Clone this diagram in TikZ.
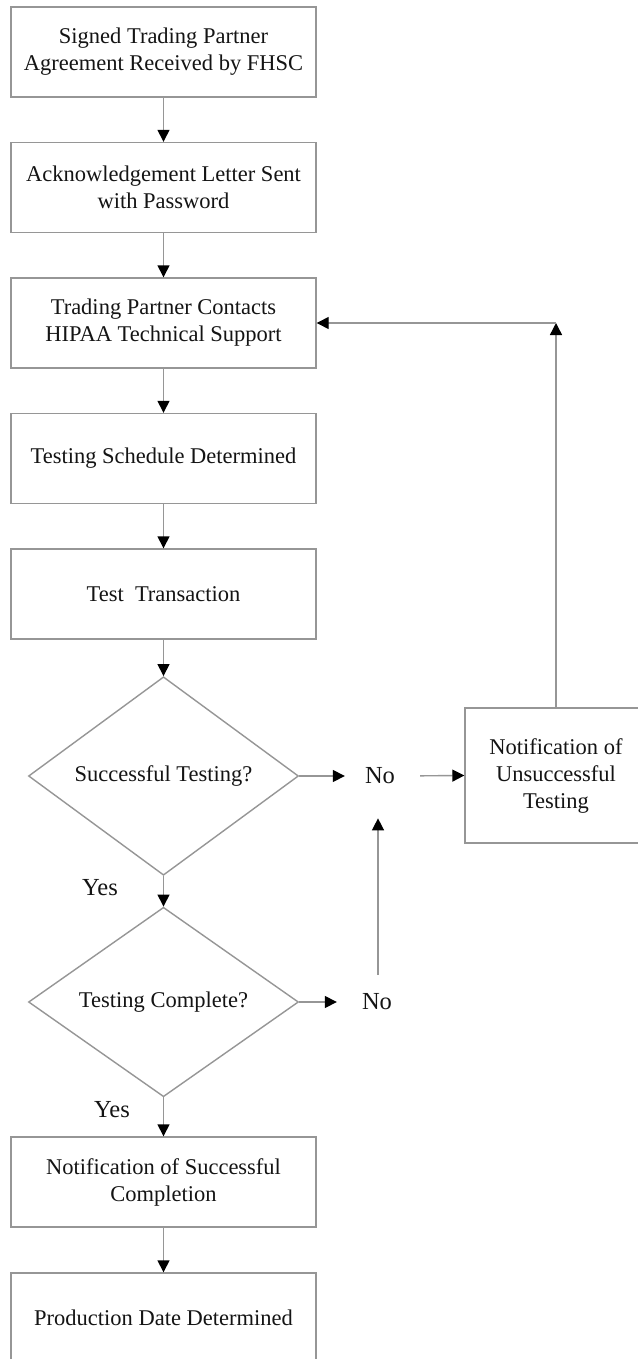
\documentclass[tikz,border=0pt]{standalone}
\usepackage{fontspec}
\setmainfont{Liberation Serif}
\usetikzlibrary{arrows.meta,shapes.geometric}
\definecolor{linegray}{RGB}{150,150,150}
\definecolor{txt}{RGB}{20,20,20}
\begin{document}
\begin{tikzpicture}[x=1pt,y=-1pt,
  every node/.style={text=txt},
  box/.style={draw=linegray, line width=1.4pt, minimum width=305pt, minimum height=90pt,
    align=center, inner sep=0pt, font=\fontsize{22.5}{27}\selectfont},
  dec/.style={draw=linegray, line width=1.4pt, diamond, minimum width=270pt, minimum height=180pt,
    inner sep=0pt, align=center, font=\fontsize{22.5}{27}\selectfont},
  lbl/.style={inner sep=0pt, font=\fontsize{24.5}{29}\selectfont},
  arr/.style={draw=linegray, line width=1.4pt, -{Triangle[length=12pt,width=12pt,color=black,fill=black]}},
  ln/.style={draw=linegray, line width=1.4pt}
]
\useasboundingbox (0,0) rectangle (637,1359);
\fill[white] (0,0) rectangle (637,1359);

\node[box] (b1) at (163.5,52) {Signed Trading Partner\\Agreement Received by FHSC};
\node[box] (b2) at (163.5,187.5) {Acknowledgement Letter Sent\\with Password};
\node[box] (b3) at (163.5,323) {Trading Partner Contacts\\HIPAA Technical Support};
\node[box] (b4) at (163.5,458.5) {Testing Schedule Determined};
\node[box] (b5) at (163.5,594) {Test\ \ Transaction};
\node[dec] (d1) at (163.5,776) {Successful Testing?};
\node[dec] (d2) at (163.5,1002) {Testing Complete?};
\node[box] (b6) at (163.5,1182) {Notification of Successful\\Completion};
\node[box, minimum height=110pt] (b7) at (163.5,1328) {\raisebox{20pt}{Production Date Determined}};

\node[box, minimum width=182pt, minimum height=135pt] (nu) at (556,775.5) {Notification of\\Unsuccessful\\Testing};

\node[lbl] (no1) at (380,776) {No};
\node[lbl] (no2) at (377,1002) {No};
\node[lbl] (yes1) at (100,888) {Yes};
\node[lbl] (yes2) at (112,1110) {Yes};

\coordinate (corner) at (556,323);

\draw[arr] (b1) -- (b2);
\draw[arr] (b2) -- (b3);
\draw[arr] (b3) -- (b4);
\draw[arr] (b4) -- (b5);
\draw[arr] (b5) -- (d1);
\draw[arr] (d1) -- (d2);
\draw[arr] (d2) -- (b6);
\draw[arr] (b6) -- (b7);

\draw[arr, shorten >=20pt] (d1.east) -- (no1.west);
\draw[arr, shorten <=25pt] (no1.east) -- (nu.west);
\draw[arr, shorten >=25pt] (d2.east) -- (no2.west);
\draw[arr, shorten <=19pt, shorten >=34pt] ([xshift=1pt]no2.north) -- ([xshift=1pt]no2.north |- no1.south);
\draw[arr] (nu.north) -- (corner);
\draw[arr] (corner) -- (b3.east);
\end{tikzpicture}
\end{document}
